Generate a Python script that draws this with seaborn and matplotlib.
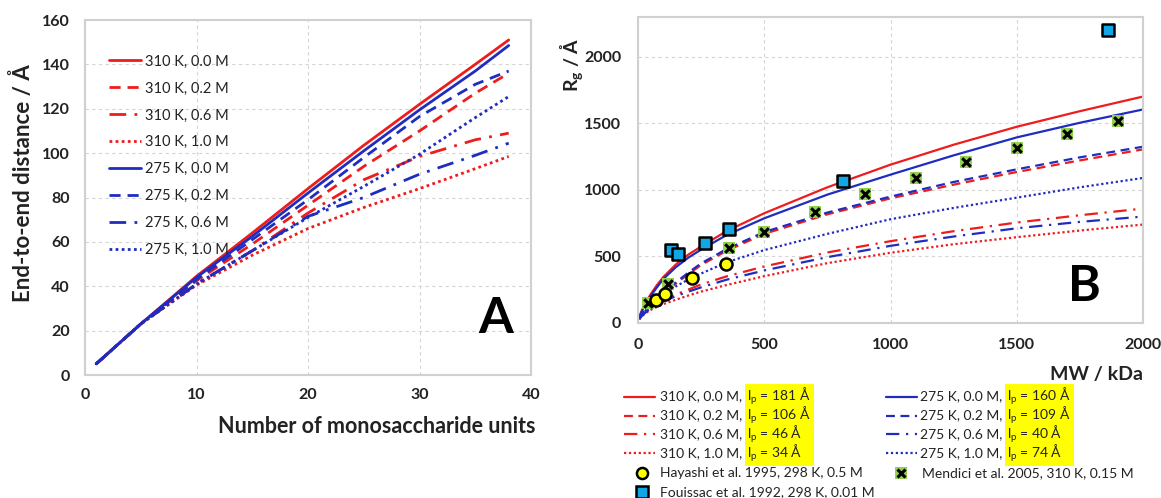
import matplotlib
matplotlib.use('Agg')
import pandas as pd
import matplotlib.pyplot as plt
import seaborn as sns
from matplotlib.lines import Line2D
from matplotlib.patches import Rectangle

# ---- Panel A: end-to-end distance vs number of monosaccharide units ----
n_units = [1, 5, 10, 15, 20, 25, 30, 35, 38]
ree_310_00 = [5, 23, 44.5, 64, 84, 103.5, 122, 140, 151]
ree_310_02 = [5, 23, 42.5, 59, 76.5, 94, 110, 127, 136]
ree_310_06 = [5, 23, 41, 56, 73, 88, 98.5, 106, 109]
ree_310_10 = [5, 23, 40.5, 54, 66, 75.5, 84, 93, 98.5]
ree_275_00 = [5, 23, 44, 62.5, 82, 101, 119.5, 137, 148.5]
ree_275_02 = [5, 23, 43, 61, 79, 98, 116.5, 131, 137]
ree_275_06 = [5, 23, 41, 56, 71.5, 80, 90.5, 99, 104.5]
ree_275_10 = [5, 23, 41, 56, 71, 85, 99.5, 116, 125.5]

# ---- Panel B: radius of gyration vs molecular weight ----
mw = [5, 10, 20, 35, 50, 75, 100, 150, 200, 250, 350, 500, 750, 1000, 1250, 1500, 1750, 2000]
rg_310_00 = [40, 70, 115, 170, 215, 285, 345, 440, 515, 575, 690, 825, 1020, 1190, 1340, 1475, 1592, 1702]
rg_310_02 = [32, 49, 78, 107, 136, 184, 225, 296, 368, 436, 542, 670, 817, 937, 1040, 1135, 1222, 1305]
rg_310_06 = [30, 44, 66, 92, 115, 146, 172, 215, 252, 290, 350, 425, 530, 615, 690, 755, 810, 860]
rg_310_10 = [28, 40, 58, 80, 98, 122, 142, 175, 207, 236, 285, 352, 450, 528, 592, 645, 695, 740]
rg_275_00 = [38, 66, 108, 160, 203, 268, 330, 420, 492, 552, 660, 787, 965, 1115, 1260, 1395, 1505, 1605]
rg_275_02 = [32, 50, 80, 110, 140, 190, 232, 305, 380, 448, 555, 684, 830, 950, 1060, 1155, 1245, 1325]
rg_275_06 = [29, 42, 63, 87, 108, 137, 162, 202, 236, 268, 325, 395, 495, 580, 650, 712, 760, 800]
rg_275_10 = [30, 46, 72, 104, 135, 178, 215, 275, 328, 372, 455, 548, 670, 780, 865, 942, 1020, 1090]

# persistence lengths shown in legend B
lp_310 = [181, 106, 46, 34]
lp_275 = [160, 109, 40, 74]

# experimental points
hayashi_mw = [70, 105, 215, 350]
hayashi_rg = [170, 220, 340, 445]
fouissac_mw = [130, 160, 265, 360, 810, 1860]
fouissac_rg = [550, 515, 600, 705, 1065, 2205]
mendici_mw = [40, 120, 360, 500, 700, 900, 1100, 1300, 1500, 1700, 1900]
mendici_rg = [150, 290, 565, 685, 835, 970, 1090, 1210, 1315, 1420, 1515]

temps = ['310 K', '275 K']
salts = ['0.0 M', '0.2 M', '0.6 M', '1.0 M']

sns.set_theme(style='white')
plt.rcParams['font.family'] = ['Lato', 'DejaVu Sans']
plt.rcParams['mathtext.fontset'] = 'custom'
plt.rcParams['mathtext.rm'] = 'Lato'
plt.rcParams['mathtext.bf'] = 'Lato:bold'
plt.rcParams['mathtext.default'] = 'regular'

RED = '#ee1c1c'
BLUE = '#1f2dbf'
palette = {'310 K': RED, '275 K': BLUE}
dashes = {'0.0 M': '', '0.2 M': (4, 2.5), '0.6 M': (6, 3, 1, 3), '1.0 M': (1, 1.2)}


def long_frame(x, series, xname, yname):
    rows = []
    for (t, s), vals in series.items():
        for xv, yv in zip(x, vals):
            rows.append({xname: xv, yname: yv, 'temp': t, 'salt': s})
    return pd.DataFrame(rows)


ree = long_frame(n_units, {
    ('310 K', '0.0 M'): ree_310_00, ('310 K', '0.2 M'): ree_310_02,
    ('310 K', '0.6 M'): ree_310_06, ('310 K', '1.0 M'): ree_310_10,
    ('275 K', '0.0 M'): ree_275_00, ('275 K', '0.2 M'): ree_275_02,
    ('275 K', '0.6 M'): ree_275_06, ('275 K', '1.0 M'): ree_275_10,
}, 'n', 'ree')

rg = long_frame(mw, {
    ('310 K', '0.0 M'): rg_310_00, ('310 K', '0.2 M'): rg_310_02,
    ('310 K', '0.6 M'): rg_310_06, ('310 K', '1.0 M'): rg_310_10,
    ('275 K', '0.0 M'): rg_275_00, ('275 K', '0.2 M'): rg_275_02,
    ('275 K', '0.6 M'): rg_275_06, ('275 K', '1.0 M'): rg_275_10,
}, 'mw', 'rg')

W, H = 1161, 498
fig = plt.figure(figsize=(W / 100, H / 100), dpi=100)
ax_a = fig.add_axes([85 / W, 1 - 375 / H, (531 - 85) / W, (375 - 20) / H])
ax_b = fig.add_axes([638 / W, 1 - 323 / H, (1143 - 638) / W, (323 - 17) / H])

GRID = dict(color='#d4d4d4', linestyle=(0, (3, 3)), linewidth=0.8)


def style_axes(ax, xpad, ypad):
    ax.grid(True, **GRID)
    ax.set_axisbelow(True)
    for sp in ax.spines.values():
        sp.set_color('#d0d0d0')
        sp.set_linewidth(1.5)
    ax.tick_params(length=0, labelsize=11.5, colors='#222222')
    ax.tick_params(axis='x', pad=xpad)
    ax.tick_params(axis='y', pad=ypad)
    for lab in ax.get_xticklabels() + ax.get_yticklabels():
        lab.set_fontweight('bold')


# ---- Panel A ----
sns.lineplot(data=ree, x='n', y='ree', hue='temp', style='salt', palette=palette,
             dashes=dashes, hue_order=temps, style_order=salts, linewidth=2,
             legend=False, ax=ax_a)
ax_a.set_xlim(0, 40)
ax_a.set_ylim(0, 160)
ax_a.set_xticks(range(0, 41, 10))
ax_a.set_yticks(range(0, 161, 20))
style_axes(ax_a, 9, 11)
ax_a.set_xlabel('Number of monosaccharide units', fontsize=15.5, fontweight='bold',
                color='#222222')
ax_a.xaxis.set_label_coords(0.655, -0.115)
ax_a.set_ylabel('End-to-end distance / Å', fontsize=16, fontweight='bold',
                color='#222222')
ax_a.yaxis.set_label_coords(-0.115, 0.54)
ax_a.text(0.92, 0.16, 'A', transform=ax_a.transAxes, fontsize=36,
          fontweight='bold', ha='center', va='center', color='black')

handles_a = []
labels_a = []
for t in temps:
    for s in salts:
        h = Line2D([], [], color=palette[t], linewidth=2)
        if dashes[s]:
            h.set_dashes(dashes[s])
        handles_a.append(h)
        labels_a.append(f'{t}, {s}')
ax_a.legend(handles_a, labels_a, loc='upper left', bbox_to_anchor=((109 - 85) / 446, 0.903),
            frameon=False, fontsize=10.5, handlelength=2.2, handletextpad=0.25,
            labelspacing=0.89, borderpad=0, borderaxespad=0, labelcolor='#222222')

# ---- Panel B ----
sns.lineplot(data=rg, x='mw', y='rg', hue='temp', style='salt', palette=palette,
             dashes=dashes, hue_order=temps, style_order=salts, linewidth=1.6,
             legend=False, ax=ax_b)
sns.scatterplot(x=mendici_mw, y=mendici_rg, marker='s', s=85, color='#92d050',
                linewidth=0, ax=ax_b, zorder=5)
sns.scatterplot(x=mendici_mw, y=mendici_rg, marker='x', s=38, color='black',
                linewidth=2.2, ax=ax_b, zorder=6)
sns.scatterplot(x=fouissac_mw, y=fouissac_rg, marker='s', s=80, color='#12a6e4',
                edgecolor='black', linewidth=1.8, ax=ax_b, zorder=7)
sns.scatterplot(x=hayashi_mw, y=hayashi_rg, marker='o', s=75, color='#ffff00',
                edgecolor='black', linewidth=1.8, ax=ax_b, zorder=7)
ax_b.set_xlim(0, 2000)
ax_b.set_ylim(0, 2300)
ax_b.set_xticks(range(0, 2001, 500))
ax_b.set_yticks(range(0, 2001, 500))
style_axes(ax_b, 11, 12)
ax_b.set_xlabel('MW / kDa', fontsize=14, fontweight='bold', color='#222222')
ax_b.xaxis.set_label_coords(1.0, -0.14)
ax_b.xaxis.label.set_ha('right')
ax_b.set_ylabel(r'$\mathbf{R_g}$ / Å', fontsize=14, fontweight='bold', color='#222222')
ax_b.yaxis.set_label_coords(-0.105, 0.843)
ax_b.text(0.885, 0.12, 'B', transform=ax_b.transAxes, fontsize=36,
          fontweight='bold', ha='center', va='center', color='black')

# ---- Legend for panel B (figure coordinates) ----
row_y = [397, 416, 434, 453]
PITCH = 19
LFS = 10
cols = [(624, 660, '310 K', lp_310), (886, 920, '275 K', lp_275)]
renderer = fig.canvas.get_renderer()


def fit_linespacing(txt, n_lines):
    # tune linespacing so that consecutive lines are PITCH pixels apart
    single = fig.text(0, 0, txt.get_text().split('\n')[0], fontsize=LFS)
    h1 = single.get_window_extent(renderer).height
    single.remove()
    ls = 1.3
    for _ in range(4):
        txt.set_linespacing(ls)
        hm = txt.get_window_extent(renderer).height
        pitch = (hm - h1) / (n_lines - 1)
        ls *= PITCH / pitch
    txt.set_linespacing(ls)


y_mid = 1 - (row_y[0] + row_y[-1]) / 2 / H
for hx, tx, t, lps in cols:
    for s, y in zip(salts, row_y):
        fy = 1 - y / H
        ln = Line2D([hx / W, (hx + 31) / W], [fy, fy], transform=fig.transFigure,
                    color=palette[t], linewidth=1.6)
        if dashes[s]:
            ln.set_dashes(dashes[s])
        fig.add_artist(ln)
    base = fig.text(tx / W, y_mid, '\n'.join(f'{t}, {s},' for s in salts),
                    fontsize=LFS, va='center', ha='left', color='#222222')
    fit_linespacing(base, 4)
    x_start = base.get_window_extent(renderer).x1 + 5
    hl = fig.text(x_start / W, y_mid,
                  '\n'.join(rf'l$_{{p}}$ = {lp} Å' for lp in lps),
                  fontsize=LFS, va='center', ha='left', color='#222222', zorder=5)
    fit_linespacing(hl, 4)
    bb = hl.get_window_extent(renderer)
    x0, x1 = bb.x0 - 2, bb.x1 + 3
    y0, y1 = bb.y0 - 2, bb.y1 + 2
    fig.add_artist(Rectangle((x0 / W, y0 / H), (x1 - x0) / W, (y1 - y0) / H,
                             transform=fig.transFigure, facecolor='#ffff00',
                             edgecolor='none', zorder=1))

# marker rows of legend B
fig.add_artist(Line2D([642 / W], [1 - 473 / H], transform=fig.transFigure, marker='o',
                      markersize=8, markerfacecolor='#ffff00', markeredgecolor='black',
                      markeredgewidth=1.8, linestyle='none'))
fig.text(660 / W, 1 - 473 / H, 'Hayashi et al. 1995, 298 K, 0.5 M', fontsize=LFS,
         va='center', color='#222222')
fig.add_artist(Line2D([642 / W], [1 - 492 / H], transform=fig.transFigure, marker='s',
                      markersize=8, markerfacecolor='#12a6e4', markeredgecolor='black',
                      markeredgewidth=1.8, linestyle='none'))
fig.text(660 / W, 1 - 492 / H, 'Fouissac et al. 1992, 298 K, 0.01 M', fontsize=LFS,
         va='center', color='#222222')
fig.add_artist(Line2D([901 / W], [1 - 473 / H], transform=fig.transFigure, marker='s',
                      markersize=9, markerfacecolor='#92d050', markeredgewidth=0,
                      linestyle='none'))
fig.add_artist(Line2D([901 / W], [1 - 473 / H], transform=fig.transFigure, marker='x',
                      markersize=6, color='black', markeredgewidth=2.2, linestyle='none'))
fig.text(922 / W, 1 - 473 / H, 'Mendici et al. 2005, 310 K, 0.15 M', fontsize=LFS,
         va='center', color='#222222')

fig.savefig('out.png', dpi=100)
